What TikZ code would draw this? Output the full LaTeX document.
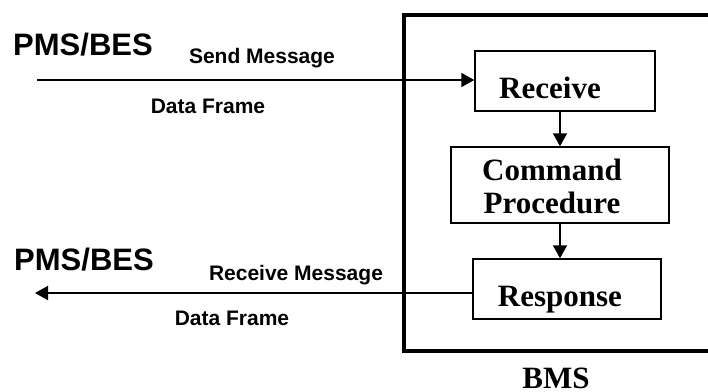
\documentclass[tikz,border=0pt]{standalone}
\usepackage{fontspec}
\setmainfont{Liberation Serif}
\newfontfamily\labelsans{Liberation Sans}
\usetikzlibrary{arrows.meta}
\tikzset{
  boxshape/.style={draw=black, line width=1.5bp, rectangle, inner sep=0pt},
  boxtext/.style={inner sep=0pt, font=\fontsize{31bp}{33bp}\selectfont\bfseries, align=center},
  sidetext/.style={inner sep=0pt, font=\labelsans\fontsize{31bp}{33bp}\selectfont\bfseries},
  msgtext/.style={inner sep=0pt, font=\labelsans\fontsize{21bp}{24bp}\selectfont\bfseries},
  flow/.style={line width=2bp, -{Triangle[length=13bp,width=14bp]}},
  frame/.style={draw=black, line width=4bp, rectangle, inner sep=0pt}
}
\begin{document}
\begin{tikzpicture}[x=1bp,y=-1bp]
\useasboundingbox (0,0) rectangle (708,391);
% outer BMS frame (right side runs off the picture)
\node[frame, minimum width=308bp, minimum height=336bp] (bms) at (557.5,183) {};
\node[boxtext, anchor=base] (bmslabel) at (556,388) {BMS};
% inner boxes
\node[boxshape, minimum width=180bp, minimum height=60bp] (recv) at (565,81) {};
\node[boxshape, minimum width=218bp, minimum height=76bp] (cmd) at (560,185) {};
\node[boxshape, minimum width=188bp, minimum height=60bp] (resp) at (567,289) {};
\node[boxtext, anchor=base] (recvT) at (550,98) {Receive};
\node[boxtext, anchor=base] (cmdT) at (552,213) {Command\\Procedure};
\node[boxtext, anchor=base] (respT) at (560,306) {Response};
% side labels
\node[sidetext, anchor=base] (pmsA) at (83,55) {PMS/BES};
\node[sidetext, anchor=base] (pmsB) at (84,270) {PMS/BES};
\node[msgtext, anchor=base] (sendT) at (262,63) {Send Message};
\node[msgtext, anchor=base] (dfA) at (208,113) {Data Frame};
\node[msgtext, anchor=base] (recvMsg) at (296,280) {Receive Message};
\node[msgtext, anchor=base] (dfB) at (232,325) {Data Frame};
% connectors
\coordinate (inL) at (37,80);
\coordinate (outL) at (35,293);
\draw[flow] (inL) -- (inL -| recv.west);
\draw[flow] (recv.south -| cmd.north) -- (cmd.north);
\draw[flow] (cmd.south) -- (cmd.south |- resp.north);
\draw[flow] (resp.west |- outL) -- (outL);
\end{tikzpicture}
\end{document}
